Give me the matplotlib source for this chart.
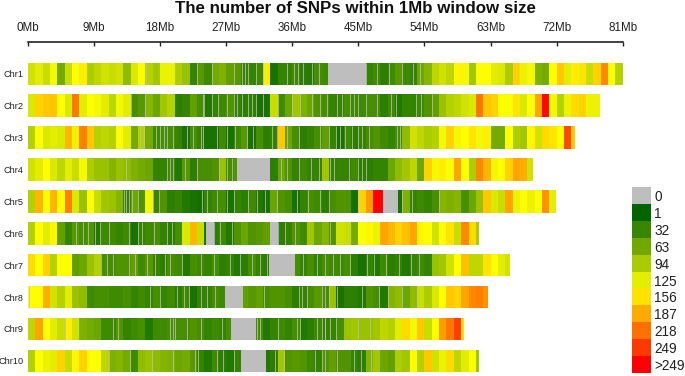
import numpy as np
import matplotlib
matplotlib.use('Agg')
import matplotlib.pyplot as plt
from matplotlib.colors import LinearSegmentedColormap, Normalize

plt.rcParams['font.family'] = ['Liberation Sans', 'DejaVu Sans']

# SNP count per 1Mb window
chr1 = [115,125,110,135,65,110,140,150,95,105,115,110,115,80,120,140,100,90,130,130,95,85,30,50,35,65,70,55,50,32,30,35,150,15,30,30,35,25,22,40,35,
        0,0,0,0,0,30,35,25,35,50,35,30,60,75,105,115,105,145,135,90,140,140,125,120,95,165,130,135,70,65,140,170,125,150,155,110,165,205,140,100]
chr2 = [120,165,170,172,140,120,215,125,140,135,125,105,135,125,40,50,75,60,90,100,25,30,55,40,20,30,35,45,30,25,25,15,15,110,35,60,90,70,60,45,40,
        30,30,40,35,35,40,40,25,35,20,30,30,35,45,55,85,100,105,115,120,215,170,165,140,140,155,120,140,190,275,135,100,130,160,165,130,130]
chr3 = [100,140,120,125,120,180,130,210,170,100,105,100,140,125,65,100,65,35,40,40,30,15,40,30,15,15,35,15,35,50,15,40,25,30,170,60,40,25,30,40,55,
        30,15,35,25,30,40,45,35,30,40,80,115,105,95,100,135,165,135,140,155,135,150,65,65,140,95,90,145,115,160,155,140,240,170]
chr4 = [115,125,140,120,105,125,110,135,95,85,85,75,85,80,70,65,60,30,30,35,20,50,25,40,40,45,85,40,45,0,0,0,0,25,60,45,30,35,30,30,90,
        30,30,30,35,25,25,30,30,60,80,90,105,60,165,135,150,140,190,140,95,205,180,135,140,165,190,185,115]
chr5 = [100,180,140,180,140,210,120,85,140,110,90,85,75,30,60,45,135,32,45,25,30,20,15,12,30,35,40,15,30,25,35,20,15,60,45,40,15,30,40,35,25,
        40,45,45,12,165,195,280,280,0,15,70,30,35,30,40,75,70,75,40,60,85,170,120,110,190,130,140,130,140,200,125]
chr6 = [100,140,125,145,55,30,50,40,45,20,35,35,30,35,15,30,35,40,30,25,40,120,180,110,15,25,35,20,45,60,45,50,55,0,25,30,45,35,90,60,75,
        45,115,110,65,140,145,130,190,180,165,175,190,145,140,115,140,155,110,205,160,95]
chr7 = [160,140,165,100,140,140,55,60,85,100,40,40,45,45,55,35,50,30,25,40,35,20,40,35,30,40,25,30,20,25,40,30,25,0,0,0,40,30,40,30,40,
        35,35,40,25,15,30,20,35,25,30,20,30,35,30,85,90,115,140,175,105,105,155,140,125,115]
chr8 = [140,140,185,115,100,125,85,80,35,40,40,35,35,40,30,35,30,40,30,35,25,35,15,30,30,40,35,0,0,55,50,55,40,45,45,40,25,30,40,50,40,
        85,15,25,25,20,45,40,20,75,80,60,80,110,95,120,140,170,165,190,205,210,200]
chr9 = [105,190,140,125,110,150,115,70,65,60,35,35,45,30,35,40,20,35,35,40,40,40,45,40,30,35,30,40,0,0,0,40,20,30,35,30,40,20,25,35,30,
        30,40,85,90,85,85,90,105,100,125,160,135,170,110,140,195,215,245,160]
chr10 = [100,140,130,125,165,110,145,165,140,140,105,70,75,65,35,80,85,80,75,70,60,65,50,30,20,35,25,20,30,0,0,0,20,25,90,45,50,45,35,30,45,
         55,45,45,30,25,75,90,60,55,95,90,140,100,170,115,130,160,105,125,140,90]
snp_counts = [chr1, chr2, chr3, chr4, chr5, chr6, chr7, chr8, chr9, chr10]

chr_names = ['Chr1','Chr2','Chr3','Chr4','Chr5','Chr6','Chr7','Chr8','Chr9','Chr10']
chr_len   = [81, 77.9, 74.5, 68.8, 71.9, 61.4, 65.7, 62.7, 59.4, 61.4]   # Mb

# big empty stretches (Mb), one per chromosome where there is one
empty_chr   = [0, 3, 4, 5, 5, 6, 7, 8, 9]
empty_start = [40.9, 28.5, 48.4, 24.3, 33.1, 32.8, 26.8, 27.7, 29.3]
empty_end   = [45.6, 32.8, 50.4, 25.4, 33.8, 36.4, 29.3, 30.8, 32.4]

# thin empty slivers inside the windows (Mb)
gaps1 = [16.1,23,25.1,28,29.1,29.6,30,31.1,32,35.3,36.2,36.8,37.4,38.7,39.6,46,47.6,49.2,51,52.5,53.4]
gaps2 = [14,16,23.8,24,25,25.9,27.1,28,28.5,29.1,30,30.5,31.1,32,34,35.9,37,38.7,39.8,40.7,42.1,42.8,43.9,44.4,44.9,46,47.6,49.4,50.1,52.8,53.5,55]
gaps3 = [15.2,15.8,17.5,18,18.5,18.9,19.8,21.6,22.5,23.5,23.9,25.7,27.1,28.2,29.8,30.7,33.2,33.9,35.3,36.9,39.8,41,41.9,42.5,43.2,44.1,45,45.5,46.4,50.3,50.7]
gaps4 = [13.3,18.9,19.4,19.8,21.4,23,26,27.1,27.8,34.4,35.3,36.9,38.5,39.7,41.1,41.7,43.7,45,45.5,46]
gaps5 = [13.1,13.4,13.8,14.1,15,17,17.9,23.7,24.4,25.7,27.1,28,30,31.2,32.3,33.9,36.6,38.2,39.8,41,44.9,50.9,52.3,56]
gaps6 = [6.5,7.5,8.2,9.1,9.8,11,13.7,15,15.5,17.1,18.9,19.6,25.3,26.2,27.8,34.1,35,36.4,41.2]
gaps7 = [10,10.7,11.6,13.7,14.6,16.2,17.3,18.7,19.3,21,23.5,25.3,27.5,28.9,30.5,31.6,32.5,37.5,39.4,40.5,41.6,42.5,43.8,46.2,47.1,48.7,50.5,52.1,53.2]
gaps8 = [0.2,16.6,18,20.3,21.2,21.9,23.5,24.4,25.5,32.1,36.9,37.3,38,40,40.5,41,42.1,45.5,47.8,49.1,50.9,53]
gaps9 = [5,11.6,12.3,19.4,19.8,20,21.6,23.5,26.4,31.2,31.6,34.1,36.6,37,39.4,40,40.5,40.4,41.1,41.9,45,46.6]
gaps10 = [11,13.9,16.9,19.8,22.8,23.2,25.7,26.5,28,33.7,34.8,39.1,40,40.5,42.1,44.4,45.3,46.7]
gaps = [gaps1, gaps2, gaps3, gaps4, gaps5, gaps6, gaps7, gaps8, gaps9, gaps10]

x_ticks  = [0, 9, 18, 27, 36, 45, 54, 63, 72, 81]
leg_vals = [0, 1, 32, 63, 94, 125, 156, 187, 218, 249, 280]
leg_labs = ['0','1','32','63','94','125','156','187','218','249','>249']

W, H = 685.0, 376.0
gray = '#bebebe'

cmap = LinearSegmentedColormap.from_list('snp', ['#006400', '#ffff00', '#ff0000'], N=256)
cmap.set_under(gray)
norm = Normalize(vmin=1, vmax=280)

fig = plt.figure(figsize=(6.85, 3.76), dpi=100, facecolor='w')

# main panel, top edge is the Mb axis
ax = fig.add_axes([28/W, 0, (622.7-28)/W, (H-42)/H])
row_h = 22.5/31.9

for i, vals in enumerate(snp_counts):
    edges = np.arange(len(vals)+1, dtype=float)
    edges[-1] = chr_len[i]
    ax.pcolormesh(edges, [i-row_h/2, i+row_h/2], np.array([vals]), cmap=cmap, norm=norm, linewidth=0)
    ax.vlines(gaps[i], i-row_h/2, i+row_h/2, color=gray, lw=0.65, alpha=0.85)

ax.barh(empty_chr, np.array(empty_end)-np.array(empty_start), left=empty_start, height=row_h, color=gray, lw=0)

ax.set_xlim(0, 81)
ax.set_ylim((H-73.75)/31.9, (42-73.75)/31.9)

for s in ['left', 'right', 'bottom']:
    ax.spines[s].set_visible(False)
ax.spines['top'].set_linewidth(1.2)
ax.spines['top'].set_color('#222222')

ax.xaxis.tick_top()
ax.set_xticks(x_ticks)
ax.set_xticklabels(['%dMb' % t for t in x_ticks], fontsize=8.4, color='#222222')
ax.tick_params('x', direction='in', length=3, width=1.0, pad=6, color='#222222')

ax.set_yticks(range(10))
ax.set_yticklabels(chr_names, fontsize=6.6, color='#222222')
ax.tick_params('y', length=0, pad=3)

fig.text(355/W, 1-8.5/H, 'The number of SNPs within 1Mb window size', fontsize=12.2,
         fontweight='bold', ha='center', va='center', color='#111111')

# colour key
cax = fig.add_axes([631.7/W, (H-373.3)/H, 19/W, (373.3-186.7)/H])
cax.pcolormesh([0, 1], np.arange(len(leg_vals)+1), np.array([leg_vals]).T, cmap=cmap, norm=norm, linewidth=0)
cax.set_xlim(0, 1)
cax.set_ylim(len(leg_vals), 0)
cax.set_xticks([])
cax.yaxis.tick_right()
cax.set_yticks(np.arange(len(leg_vals))+0.5)
cax.set_yticklabels(leg_labs, fontsize=9.8, color='#222222')
cax.tick_params('y', length=0, pad=2.5)
for s in cax.spines.values():
    s.set_visible(False)

fig.savefig('out.png', dpi=100)
